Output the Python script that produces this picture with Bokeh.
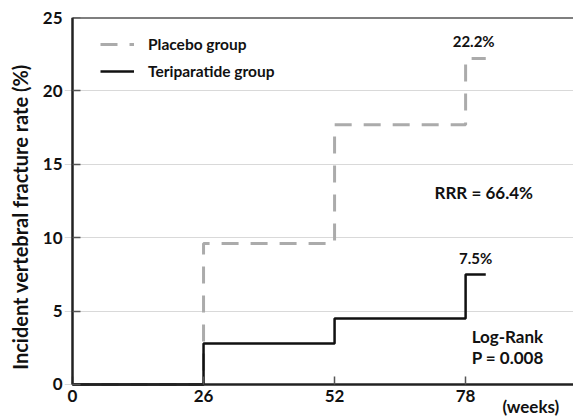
from bokeh.plotting import figure
from bokeh.models import Range1d, Label, Legend, LegendItem, FixedTicker, LinearAxis
from bokeh.embed import file_html
from bokeh.resources import INLINE

weeks = [0, 26, 52, 78, 82]
placebo = [0, 9.6, 17.7, 22.2, 22.2]
teriparatide = [0, 2.8, 4.5, 7.5, 7.5]
x_ticks = [0, 26, 52, 78]
y_ticks = [0, 5, 10, 15, 20, 25]

FONT = "Lato"
X0, X1 = -1.59, 99.41
Y0, Y1 = -2.18, 25

p = figure(width=573, height=416, output_backend="svg", toolbar_location=None,
           x_range=Range1d(X0, X1), y_range=Range1d(Y0, Y1),
           min_border_left=64, min_border_right=0, min_border_top=17, min_border_bottom=0)
p.outline_line_color = None
p.background_fill_color = "white"

p.xgrid.grid_line_color = None
p.ygrid.grid_line_color = "#d9d9d9"
p.ygrid.grid_line_width = 1

r_p = p.step(weeks, placebo, mode="after", line_color="#ababab", line_width=3, line_dash="17 12")
r_t = p.step(weeks, teriparatide, mode="after", line_color="#111111", line_width=2.5)

# x axis sits at y = 0 inside the frame
xa = p.xaxis[0]
xa.fixed_location = 0
xa.bounds = (0, X1)
xa.ticker = FixedTicker(ticks=x_ticks)
xa.axis_line_color = "#222222"
xa.axis_line_width = 2.5
xa.major_label_text_font = FONT
xa.major_label_text_font_style = "bold"
xa.major_label_text_font_size = "17px"
xa.major_label_text_color = "#111111"
xa.major_label_standoff = 6
xa.minor_tick_line_color = None
xa.major_tick_in = 8
xa.major_tick_out = 0
xa.major_tick_line_color = "#555555"
xa.major_tick_line_width = 1.5

# y axis: labels and title at the left border
ya = p.yaxis[0]
ya.ticker = FixedTicker(ticks=y_ticks)
ya.axis_line_color = None
ya.major_tick_line_color = None
ya.minor_tick_line_color = None
ya.major_tick_in = 0
ya.major_tick_out = 0
ya.major_label_text_font = FONT
ya.major_label_text_font_style = "bold"
ya.major_label_text_font_size = "17px"
ya.major_label_text_color = "#111111"
ya.major_label_standoff = 2
ya.axis_label = "Incident vertebral fracture rate (%)"
ya.axis_label_text_font = FONT
ya.axis_label_text_font_style = "bold"
ya.axis_label_text_font_size = "20px"
ya.axis_label_text_color = "#111111"
ya.axis_label_standoff = 8

# y axis line at x = 0
ya2 = LinearAxis(fixed_location=0, bounds=(0, Y1), ticker=FixedTicker(ticks=y_ticks),
                 axis_line_color="#222222", axis_line_width=2.5,
                 major_tick_in=8, major_tick_out=0, major_tick_line_color="#555555",
                 major_tick_line_width=1.5, minor_tick_line_color=None,
                 major_label_text_color=None)
p.add_layout(ya2, "left")

# top border line
top = LinearAxis(fixed_location=Y1, bounds=(0, X1), axis_line_color="black", axis_line_width=2,
                 major_tick_line_color=None, minor_tick_line_color=None,
                 major_label_text_color=None, ticker=FixedTicker(ticks=[]))
p.add_layout(top, "above")

legend = Legend(items=[LegendItem(label="Placebo group", renderers=[r_p]),
                       LegendItem(label="Teriparatide group", renderers=[r_t])],
                location=(36, 335), orientation="vertical")
legend.border_line_color = None
legend.background_fill_alpha = 0
legend.label_text_font = FONT
legend.label_text_font_style = "bold"
legend.label_text_font_size = "15.5px"
legend.label_text_color = "#111111"
legend.glyph_width = 34
legend.glyph_height = 20
legend.spacing = 7
legend.label_standoff = 14
p.add_layout(legend)

def lab(x, y, t, align="center", size="16px"):
    p.add_layout(Label(x=x, y=y, text=t, text_align=align, text_baseline="middle",
                       text_font=FONT, text_font_style="bold", text_font_size=size,
                       text_color="#111111"))

lab(79.6, 23.4, "22.2%", size="15px")
lab(80.0, 8.6, "7.5%", size="15px")
lab(81.6, 13.1, "RRR = 66.4%", size="17px")
lab(79.2, 3.3, "Log-Rank", align="left", size="17px")
lab(79.2, 1.85, "P = 0.008", align="left", size="17px")
lab(85.3, -1.5, "(weeks)", align="left", size="17px")

open("out.html", "w").write(file_html(p, INLINE))
